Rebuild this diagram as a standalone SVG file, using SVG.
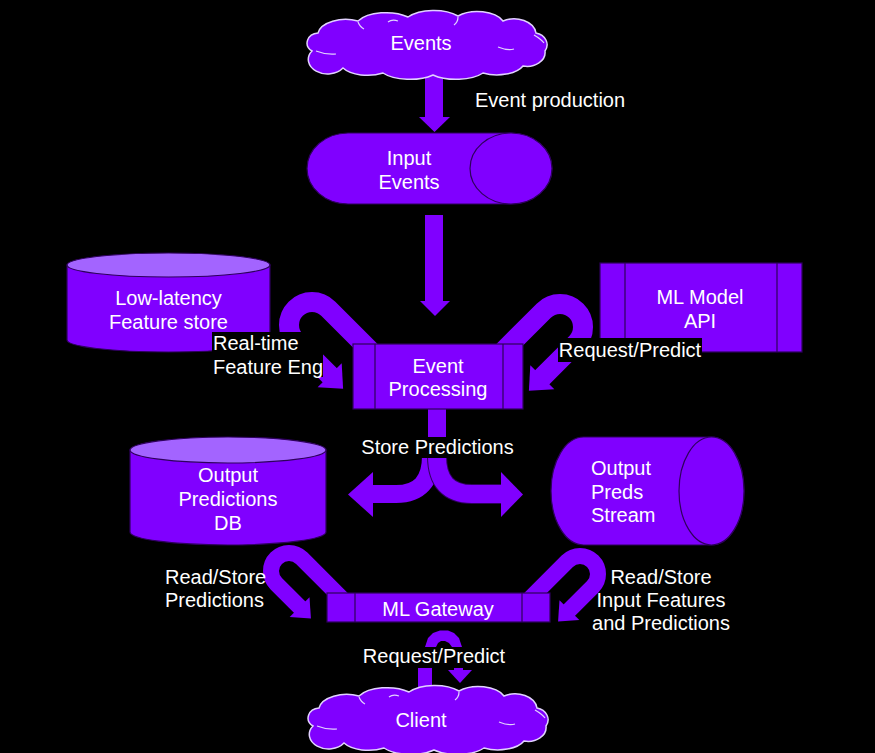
<svg xmlns="http://www.w3.org/2000/svg" xmlns:xlink="http://www.w3.org/1999/xlink" width="875" height="753" viewBox="0 0 875 753">
<style>
.n{fill:#8000ff;stroke:#2e005c;stroke-width:1.2}
.top{fill:#a364ff;stroke:#2e005c;stroke-width:1.2}
.dv{stroke:#2e005c;stroke-width:1.2}
.cl{fill:#8000ff;stroke:#e2d2ff;stroke-width:1.5}
.ci{fill:none;stroke:#e2d2ff;stroke-width:1.2}
.arr{fill:#8000ff}
.band{fill:none;stroke:#8000ff}
.bg{fill:#000}
.t{font-family:"Liberation Sans",Arial,sans-serif;font-size:20px;fill:#fff;text-anchor:middle}
.l{text-anchor:start}
</style>
<defs>
<g id="cloud">
<path class="cl" d="M4,40 A12,10 0 0 1 10,22 A28,16 0 0 1 50,10 A32,16 0 0 1 100,6 A32,16 0 0 1 150,5 A28,16 0 0 1 195,10 A22,16 0 0 1 228,22 A14,12 0 0 1 237,40 A18,14 0 0 1 215,55 A28,14 0 0 1 175,62 A32,14 0 0 1 125,64 A32,14 0 0 1 75,62 A28,14 0 0 1 35,57 A16,12 0 0 1 4,40 Z"/>
<path class="ci" d="M8,40 Q18,44 28,43 M80,11 Q84,8 90,10 M190,36 Q200,40 206,38 M226,24 Q233,28 236,32 M50,11 Q52,16 56,18 M150,6 Q150,11 146,14"/>
</g>
</defs>
<rect x="0" y="0" width="875" height="753" fill="#000"/>

<g id="connectors">
  <!-- Events -> Input Events -->
  <rect class="arr" x="425" y="70" width="18" height="47"/>
  <polygon class="arr" points="419,117 450,117 434.5,132"/>
  <!-- Input Events -> Event Processing -->
  <rect class="arr" x="425" y="215" width="18" height="86"/>
  <polygon class="arr" points="420,301 450,301 435,316"/>
  <!-- Feature store <-> Event Processing -->
  <g transform="translate(312,325) rotate(45)">
    <path class="band" stroke-width="20" d="M64,-23 H0 A23,23 0 0 0 0,23 H49"/>
    <polygon class="arr" points="48,6 48,40 67,23"/>
  </g>
  <!-- ML Model API <-> Event Processing -->
  <g transform="translate(560,327) scale(-1,1) rotate(45)">
    <path class="band" stroke-width="20" d="M64,-23 H0 A23,23 0 0 0 0,23 H49"/>
    <polygon class="arr" points="48,6 48,40 67,23"/>
  </g>
  <!-- Store predictions split -->
  <rect class="arr" x="428" y="405" width="18" height="40"/>
  <path class="band" stroke-width="18" d="M431,440 V456 Q431,494 396,494 H373"/>
  <polygon class="arr" points="373,472 373,517 348,494.5"/>
  <path fill="none" stroke="#2e005c" stroke-width="20" d="M437,440 V456 Q437,494 472,494 H501"/>
  <path class="band" stroke-width="18" d="M437,440 V456 Q437,494 472,494 H502"/>
  <polygon class="arr" points="501,472 501,517 523,494.5"/>
  <!-- Output DB <-> ML Gateway -->
  <g transform="translate(289,571) rotate(45)">
    <path class="band" stroke-width="16" d="M62,-18 H0 A18,18 0 0 0 0,18 H34"/>
    <polygon class="arr" points="33,4 33,32 49,18"/>
  </g>
  <!-- Output Stream <-> ML Gateway -->
  <g transform="translate(580,574) scale(-1,1) rotate(45)">
    <path class="band" stroke-width="16" d="M62,-18 H0 A18,18 0 0 0 0,18 H34"/>
    <polygon class="arr" points="33,4 33,32 49,18"/>
  </g>
  <!-- Client <-> ML Gateway (legs) -->
  <rect class="arr" x="418" y="660" width="14" height="32"/>
  <rect class="arr" x="454" y="660" width="9" height="11"/>
  <polygon class="arr" points="448,670 472,670 460,683"/>
</g>

<g id="events">
  <use xlink:href="#cloud" href="#cloud" transform="translate(308,11)"/>
  <text class="t" x="421" y="50">Events</text>
</g>

<g id="input-events">
  <path class="n" d="M348,133 H511 A41,35.5 0 0 1 511,204 H348 A41,35.5 0 0 1 348,133 Z"/>
  <ellipse class="n" cx="511" cy="168.5" rx="41" ry="35.5"/>
  <text class="t" x="409" y="165">Input</text>
  <text class="t" x="409" y="189">Events</text>
</g>

<g id="feature-store">
  <path class="n" d="M67,265 V340 A101.5,12 0 0 0 270,340 V265 Z"/>
  <ellipse class="top" cx="168.5" cy="265" rx="101.5" ry="12"/>
  <text class="t" x="168.5" y="305">Low-latency</text>
  <text class="t" x="168.5" y="329">Feature store</text>
</g>

<g id="ml-model-api">
  <rect class="n" x="600" y="263" width="202" height="89"/>
  <line class="dv" x1="625" y1="263" x2="625" y2="352"/>
  <line class="dv" x1="777" y1="263" x2="777" y2="352"/>
  <text class="t" x="700" y="304">ML Model</text>
  <text class="t" x="700" y="328">API</text>
</g>

<g id="event-processing">
  <rect class="n" x="353" y="344" width="170" height="65"/>
  <line class="dv" x1="375" y1="344" x2="375" y2="409"/>
  <line class="dv" x1="503" y1="344" x2="503" y2="409"/>
  <text class="t" x="438" y="373">Event</text>
  <text class="t" x="438" y="396">Processing</text>
</g>

<g id="output-db">
  <path class="n" d="M130,450 V532 A98,13 0 0 0 326,532 V450 Z"/>
  <ellipse class="top" cx="228" cy="450" rx="98" ry="13"/>
  <text class="t" x="228" y="482">Output</text>
  <text class="t" x="228" y="506">Predictions</text>
  <text class="t" x="228" y="530">DB</text>
</g>

<g id="output-stream">
  <path class="n" d="M583.5,437 H711.5 A32.5,54 0 0 1 711.5,545 H583.5 A32.5,54 0 0 1 583.5,437 Z"/>
  <ellipse class="n" cx="711.5" cy="491" rx="32.5" ry="54"/>
  <text class="t l" x="591" y="475">Output</text>
  <text class="t l" x="591" y="499">Preds</text>
  <text class="t l" x="591" y="522">Stream</text>
</g>

<g id="ml-gateway">
  <rect class="n" x="327" y="593" width="223" height="29"/>
  <line class="dv" x1="355" y1="593" x2="355" y2="622"/>
  <line class="dv" x1="522" y1="593" x2="522" y2="622"/>
  <text class="t" x="438" y="616">ML Gateway</text>
</g>

<g id="client">
  <use xlink:href="#cloud" href="#cloud" transform="translate(309,686)"/>
  <text class="t" x="421" y="727">Client</text>
</g>

<g id="labels">
  <text class="t l" x="475" y="107">Event production</text>
  <rect class="bg" x="212" y="332" width="111" height="45"/>
  <text class="t l" x="213" y="350">Real-time</text>
  <text class="t l" x="213" y="374">Feature Eng</text>
  <rect class="bg" x="558" y="338" width="144" height="24"/>
  <text class="t" x="630" y="357">Request/Predict</text>
  <rect class="bg" x="357" y="437" width="161" height="21"/>
  <text class="t" x="437.5" y="454">Store Predictions</text>
  <text class="t l" x="165" y="584">Read/Store</text>
  <text class="t l" x="165" y="607">Predictions</text>
  <text class="t" x="661" y="584">Read/Store</text>
  <text class="t" x="661" y="607">Input Features</text>
  <text class="t" x="661" y="630">and Predictions</text>
  <rect class="bg" x="360" y="647" width="148" height="21"/>
  <!-- arch of Client <-> ML Gateway connector, above the label box -->
  <path class="arr" d="M425,647 L428,638 L433,633 L440,630.5 L448,630.5 L454,633 L459,638 L462,647 L452,647 L449,643 L445,641 L441,641 L438,643 L436,647 Z"/>
  <text class="t" x="434" y="663">Request/Predict</text>
</g>
</svg>
